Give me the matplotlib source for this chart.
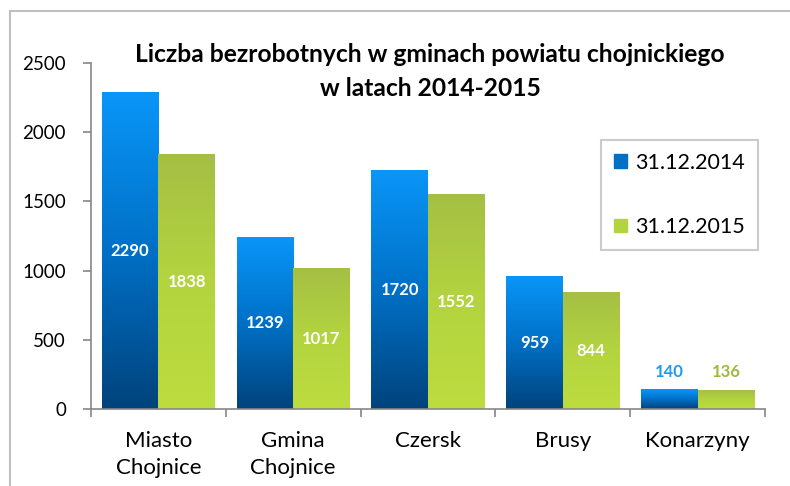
import matplotlib
matplotlib.use("Agg")
import matplotlib.pyplot as plt
import numpy as np
from matplotlib.colors import LinearSegmentedColormap
from matplotlib.patches import Rectangle

categories = ["Miasto\nChojnice", "Gmina\nChojnice", "Czersk", "Brusy", "Konarzyny"]
v2014 = [2290, 1239, 1720, 959, 140]
v2015 = [1838, 1017, 1552, 844, 136]
series = ["31.12.2014", "31.12.2015"]

plt.rcParams["font.family"] = ["Lato", "DejaVu Sans"]

BLUE = LinearSegmentedColormap.from_list("b", ["#00437C", "#0070C6", "#0A96F8"])
GREEN = LinearSegmentedColormap.from_list("g", ["#BDDC40", "#B4D43F", "#A5BF44"])

fig = plt.figure(figsize=(7.9, 4.86), dpi=100)
fig.patches.append(Rectangle((10 / 790, -0.1), 1.2, (486 - 11) / 486 + 0.1,
                             transform=fig.transFigure, fill=False,
                             edgecolor="#BFBFBF", lw=1.5))
ax = fig.add_axes([91 / 790, 77 / 486, 674 / 790, 346 / 486])

x = np.arange(len(categories))
w = 0.42
grad = np.linspace(0, 1, 256).reshape(-1, 1)

def gbars(xs, vals, cmap):
    bars = ax.bar(xs, vals, w, color="none", edgecolor="none")
    for r in bars:
        x0, h = r.get_x(), r.get_height()
        ax.imshow(grad, cmap=cmap, origin="lower", aspect="auto",
                  extent=(x0, x0 + r.get_width(), 0, h), zorder=2)
    return bars

b1 = gbars(x - w / 2, v2014, BLUE)
b2 = gbars(x + w / 2, v2015, GREEN)

def labels(xs, vals, out_col):
    for xi, v in zip(xs, vals):
        if v > 300:
            ax.text(xi, v / 2, f"{v}", ha="center", va="center", color="white",
                    fontweight="bold", fontsize=12, zorder=3)
        else:
            ax.text(xi, v + 70, f"{v}", ha="center", va="bottom", color=out_col,
                    fontweight="bold", fontsize=12, zorder=3)

labels(x - w / 2, v2014, "#1E9BF0")
labels(x + w / 2, v2015, "#9BBB3C")

ax.set_xlim(-0.5, len(categories) - 0.5)
ax.set_ylim(0, 2500)
ax.set_yticks(range(0, 2501, 500))
ax.set_xticks(np.arange(-0.5, len(categories), 1))
ax.set_xticklabels([])
ax.set_xticks(x, minor=True)
ax.set_xticklabels(categories, minor=True, fontsize=16, linespacing=1.4, va="top")
ax.tick_params(axis="x", which="minor", length=0, pad=16)
ax.tick_params(axis="x", which="major", length=6, color="#868686", width=1.2)
ax.tick_params(axis="y", length=6, color="#868686", labelsize=13.5, width=1.2, pad=12)
for s in ("top", "right"):
    ax.spines[s].set_visible(False)
for s in ("left", "bottom"):
    ax.spines[s].set_color("#868686")
    ax.spines[s].set_linewidth(1.2)

fig.text(430 / 790, 1 - 55 / 486, "Liczba bezrobotnych w gminach powiatu chojnickiego",
         ha="center", va="center", fontsize=17.7, fontweight="bold")
fig.text(430 / 790, 1 - 88 / 486, "w latach 2014-2015",
         ha="center", va="center", fontsize=17.7, fontweight="bold")

h1 = Rectangle((0, 0), 1, 1, color="#0070C6")
h2 = Rectangle((0, 0), 1, 1, color="#B4D43F")
leg = ax.legend([h1, h2], series, loc="upper left", bbox_to_anchor=(601 / 790, 1 - 140 / 486),
                bbox_transform=fig.transFigure, fontsize=15.5, handlelength=0.6,
                handleheight=0.6, handletextpad=0.4, labelspacing=2.05,
                fancybox=False, edgecolor="#BFBFBF", borderpad=0.6, borderaxespad=0)
leg.get_frame().set_linewidth(1.5)

fig.savefig("out.png", dpi=100)
